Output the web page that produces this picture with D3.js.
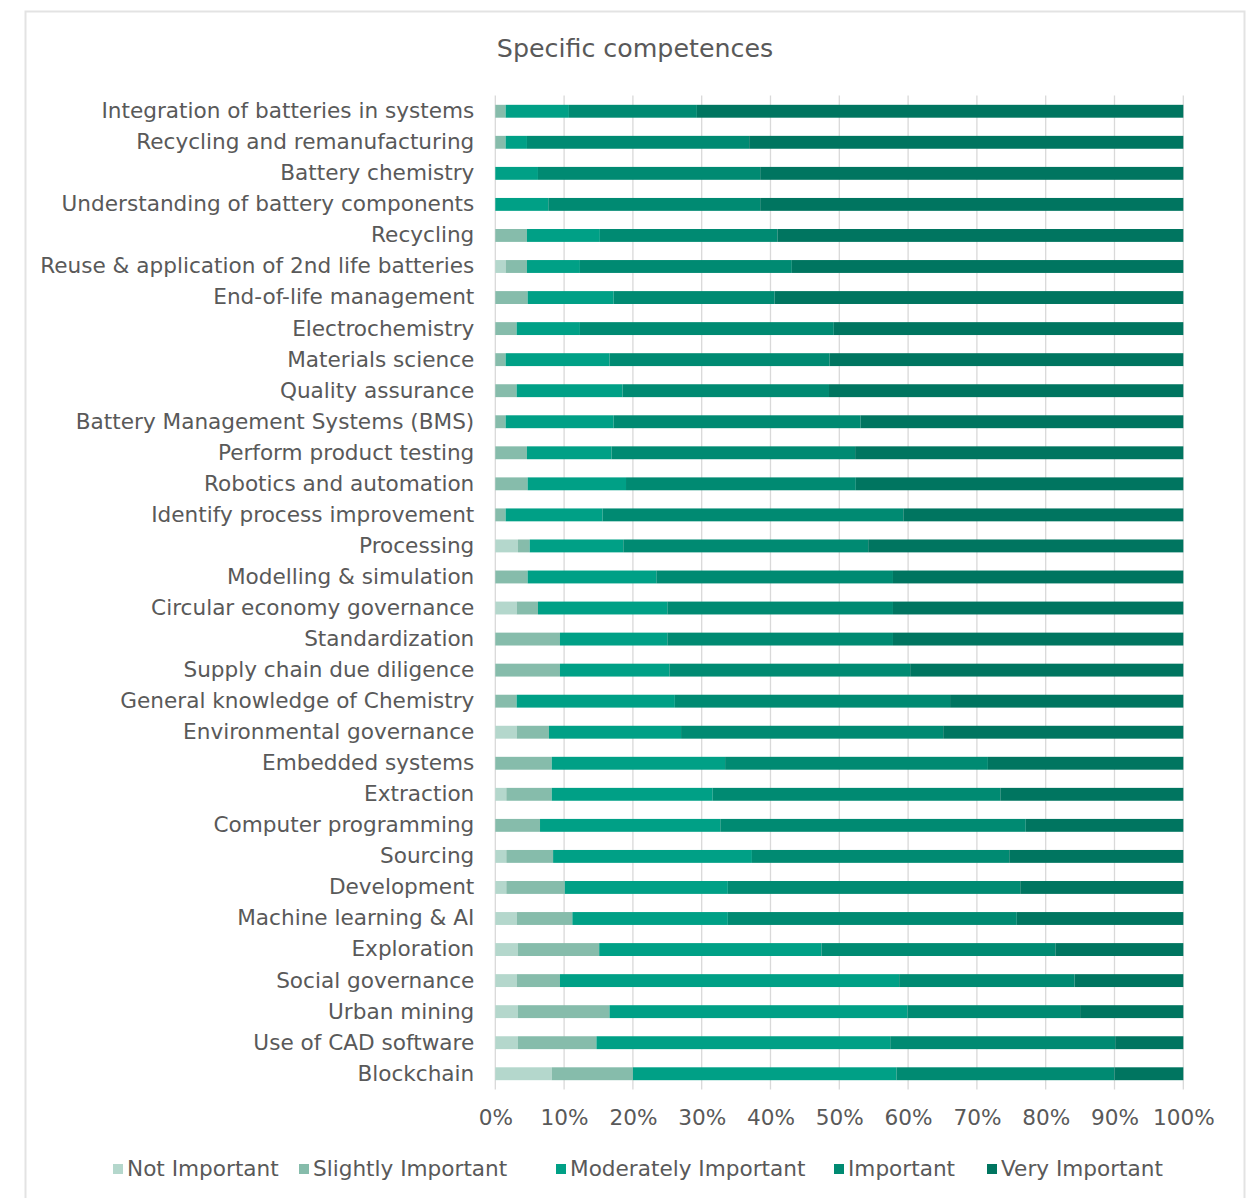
<!DOCTYPE html>
<html>
<head>
<meta charset="utf-8">
<script src="https://cdn.jsdelivr.net/npm/d3@7"></script>
<style>
  html, body { margin: 0; padding: 0; background: #fff; }
  svg { display: block; }
  text { font-family: "DejaVu Sans", Verdana, sans-serif; fill: #595959; }
</style>
</head>
<body>
<svg id="chart" width="1258" height="1198"></svg>
<script>
// Survey answers per competence, as percentages of respondents
const categories = [
  "Integration of batteries in systems",
  "Recycling and remanufacturing",
  "Battery chemistry",
  "Understanding of battery components",
  "Recycling",
  "Reuse & application of 2nd life batteries",
  "End-of-life management",
  "Electrochemistry",
  "Materials science",
  "Quality assurance",
  "Battery Management Systems (BMS)",
  "Perform product testing",
  "Robotics and automation",
  "Identify process improvement",
  "Processing",
  "Modelling & simulation",
  "Circular economy governance",
  "Standardization",
  "Supply chain due diligence",
  "General knowledge of Chemistry",
  "Environmental governance",
  "Embedded systems",
  "Extraction",
  "Computer programming",
  "Sourcing",
  "Development",
  "Machine learning & AI",
  "Exploration",
  "Social governance",
  "Urban mining",
  "Use of CAD software",
  "Blockchain"
];

const notImportant = [0, 0, 0, 0, 0, 1.5, 0, 0, 0, 0, 0, 0, 0, 0, 3.3, 0,
  3.1, 0, 0, 0, 3.1, 0, 1.6, 0, 1.6, 1.6, 3.1, 3.3, 3.1, 3.3, 3.3, 8.2];
const slightlyImportant = [1.5, 1.5, 0, 0, 4.6, 3.1, 4.7, 3.1, 1.5, 3.1, 1.5, 4.6, 4.7, 1.5, 1.7, 4.7,
  3.1, 9.4, 9.4, 3.1, 4.7, 8.2, 6.6, 6.5, 6.8, 8.5, 8.1, 11.8, 6.3, 13.3, 11.4, 11.8];
const moderatelyImportant = [9.2, 3.1, 6.2, 7.7, 10.6, 7.7, 12.5, 9.2, 15.1, 15.4, 15.7, 12.3, 14.3, 14.1, 13.6, 18.7,
  18.8, 15.6, 15.9, 23.0, 19.2, 25.2, 23.4, 26.2, 28.9, 23.7, 22.6, 32.3, 49.3, 43.3, 42.7, 38.3];
const important = [18.6, 32.3, 32.3, 30.8, 25.8, 30.8, 23.4, 36.9, 32.0, 30.0, 35.9, 35.4, 33.4, 43.7, 35.6, 34.4,
  32.8, 32.8, 35.0, 40.0, 38.1, 38.2, 41.8, 44.4, 37.4, 42.5, 42.0, 34.0, 25.5, 25.1, 32.7, 31.7];
const veryImportant = [70.7, 63.1, 61.5, 61.5, 59.0, 56.9, 59.4, 50.8, 51.4, 51.5, 46.9, 47.7, 47.6, 40.7, 45.8, 42.2,
  42.2, 42.2, 39.7, 33.9, 34.9, 28.4, 26.6, 22.9, 25.3, 23.7, 24.2, 18.6, 15.8, 15.0, 9.9, 10.0];

const seriesNames = ["Not Important", "Slightly Important", "Moderately Important", "Important", "Very Important"];
const seriesColors = ["#b4d7cc", "#86bcab", "#00a086", "#008a72", "#007560"];
const tickValues = [0, 0.1, 0.2, 0.3, 0.4, 0.5, 0.6, 0.7, 0.8, 0.9, 1.0];

const rows = categories.map((c, i) => ({
  category: c,
  "Not Important": notImportant[i],
  "Slightly Important": slightlyImportant[i],
  "Moderately Important": moderatelyImportant[i],
  "Important": important[i],
  "Very Important": veryImportant[i]
}));

// normalise each row so stacked segments fill the full 100%
const stacked = d3.stack()
  .keys(seriesNames)
  .offset(d3.stackOffsetExpand)(rows);

const svg = d3.select("#chart");
const fontSize = 21.6;

// outer frame
svg.append("rect")
  .attr("x", 25.5).attr("y", 11.5)
  .attr("width", 1219).attr("height", 1200)
  .attr("fill", "#fff")
  .attr("stroke", "#e3e3e3")
  .attr("stroke-width", 2);

svg.append("text")
  .attr("x", 635).attr("y", 57)
  .attr("text-anchor", "middle")
  .attr("font-size", 25.3)
  .text("Specific competences");

const plot = { left: 495.3, right: 1183.3, top: 95.5, bottom: 1089.5 };

const x = d3.scaleLinear().domain([0, 1]).range([plot.left, plot.right]);
const y = d3.scaleBand()
  .domain(categories)
  .range([plot.top, plot.bottom])
  .paddingInner(0.585)
  .paddingOuter(0.3);

// vertical gridlines
svg.append("g")
  .selectAll("line")
  .data(tickValues)
  .join("line")
  .attr("x1", d => x(d)).attr("x2", d => x(d))
  .attr("y1", plot.top).attr("y2", plot.bottom)
  .attr("stroke", "#d9d9d9")
  .attr("stroke-width", 1.3);

// stacked bars
svg.append("g")
  .selectAll("g")
  .data(stacked)
  .join("g")
  .attr("fill", (d, i) => seriesColors[i])
  .selectAll("rect")
  .data(d => d)
  .join("rect")
  .attr("x", d => x(d[0]))
  .attr("y", d => y(d.data.category))
  .attr("width", d => Math.max(0, x(d[1]) - x(d[0])))
  .attr("height", y.bandwidth());

// category axis
const yAxis = svg.append("g")
  .attr("transform", `translate(${plot.left - 8},0)`)
  .call(d3.axisLeft(y).tickSize(0).tickPadding(13));
yAxis.select(".domain").remove();
yAxis.selectAll("text")
  .attr("font-size", fontSize)
  .attr("fill", "#595959")
  .style("font-family", '"DejaVu Sans", Verdana, sans-serif');

// percentage axis
const xAxis = svg.append("g")
  .attr("transform", `translate(0,${plot.bottom})`)
  .call(d3.axisBottom(x).tickValues(tickValues).tickFormat(d3.format(".0%")).tickSize(0).tickPadding(20));
xAxis.select(".domain").remove();
xAxis.selectAll("text")
  .attr("font-size", fontSize)
  .attr("fill", "#595959")
  .style("font-family", '"DejaVu Sans", Verdana, sans-serif');

// legend
const legendX = [113, 299, 556, 834, 987];
const legend = svg.append("g")
  .selectAll("g")
  .data(seriesNames)
  .join("g")
  .attr("transform", (d, i) => `translate(${legendX[i]},1168)`);
legend.append("rect")
  .attr("x", 0).attr("y", -4)
  .attr("width", 10).attr("height", 10)
  .attr("fill", (d, i) => seriesColors[i]);
legend.append("text")
  .attr("x", 14).attr("y", 0)
  .attr("dy", "0.35em")
  .attr("font-size", fontSize)
  .text(d => d);
</script>
</body>
</html>
